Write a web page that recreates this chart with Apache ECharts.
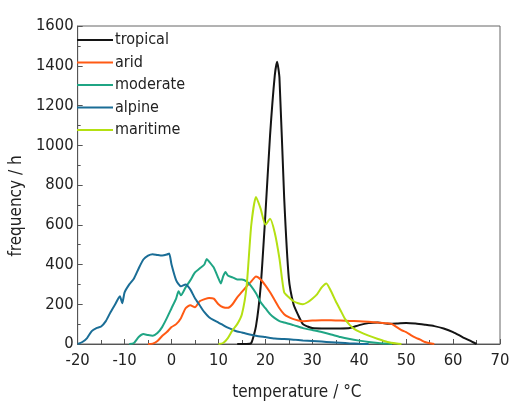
<!DOCTYPE html>
<html>
<head>
<meta charset="utf-8">
<script src="https://cdn.jsdelivr.net/npm/echarts@6/dist/echarts.min.js"></script>
<style>html,body{margin:0;padding:0;background:#fff;}#c{width:514px;height:406px;}</style>
</head>
<body>
<div id="c"></div>
<script>
// x ticks and y ticks
const xTicks = [-20, -10, 0, 10, 20, 30, 40, 50, 60, 70];
const yTicks = [0, 200, 400, 600, 800, 1000, 1200, 1400, 1600];
const seriesNames = ['tropical', 'arid', 'moderate', 'alpine', 'maritime'];

// [temperature °C, frequency h]
const tropical = [[14,0],[16,0],[17,5],[18,90],[19,290],[20,650],[21,1050],[22,1350],[22.5,1420],[23,1340],[24,740],[25,330],[26,200],[27,145],[28,100],[29,88],[30,80],[32,78],[34,78],[36,78],[38,80],[40,95],[42,105],[44,108],[46,102],[48,103],[50,106],[52,103],[54,97],[56,90],[58,78],[60,60],[62,35],[64,12],[65,0]];
const arid = [[-5,0],[-4,2],[-3,15],[-2,40],[-1,60],[0,85],[1,100],[2,130],[3,180],[4,195],[5,185],[6,215],[7,225],[8,232],[9,228],[10,200],[11,185],[12,182],[13,200],[14,235],[15,262],[16,290],[17,315],[18,340],[19,325],[20,295],[21,260],[22,220],[23,180],[24,150],[25,135],[26,125],[27,118],[28,115],[30,118],[32,120],[34,120],[36,118],[38,116],[40,115],[42,112],[44,108],[46,104],[47,100],[48,85],[49,70],[50,60],[51,45],[52,32],[53,22],[54,10],[55,4],[56,0]];
const moderate = [[-9,0],[-8,5],[-7,35],[-6,50],[-5,45],[-4,42],[-3,55],[-2,85],[-1,130],[0,180],[1,230],[1.5,265],[2,245],[3,285],[4,320],[5,360],[6,380],[7,400],[7.5,428],[8,415],[9,385],[10,330],[10.5,305],[11,340],[11.5,362],[12,345],[13,335],[14,325],[15,325],[16,315],[17,290],[18,255],[19,210],[20,180],[21,150],[22,130],[23,115],[24,108],[26,95],[28,80],[30,70],[32,60],[34,48],[36,35],[38,25],[40,17],[42,10],[44,5],[46,2],[47,0]];
const alpine = [[-20,0],[-19,10],[-18,30],[-17,65],[-16,80],[-15,88],[-14,115],[-13,160],[-12,200],[-11,240],[-10.5,205],[-10,260],[-9,300],[-8,330],[-7,380],[-6,425],[-5,445],[-4,452],[-3,448],[-2,445],[-1,450],[-0.5,455],[0,400],[1,320],[2,290],[3,300],[4,275],[5,230],[6,195],[7,160],[8,135],[9,120],[10,108],[11,95],[12,82],[13,72],[14,63],[15,58],[16,52],[18,42],[20,35],[22,28],[24,25],[26,22],[28,18],[30,15],[32,12],[34,9],[36,6],[38,3],[40,1],[42,0]];
const maritime = [[10,0],[11,5],[12,30],[13,70],[14,100],[15,150],[16,290],[17,600],[18,740],[19,680],[20,600],[21,630],[22,560],[23,430],[24,260],[25,235],[26,215],[27,205],[28,200],[29,210],[30,228],[31,250],[32,285],[33,305],[34,265],[35,215],[36,170],[37,125],[38,95],[39,75],[40,62],[42,42],[44,25],[46,10],[48,2],[49,0]];

const colors = ['#141414', '#ff5a14', '#1fa584', '#1a6d96', '#b4e012'];
const dataSets = [tropical, arid, moderate, alpine, maritime];
const FONT = "'Liberation Sans Narrow', 'DejaVu Sans Condensed', 'Roboto Condensed', sans-serif";

const chart = echarts.init(document.getElementById('c'), null, {renderer: 'canvas'});
chart.setOption({
  backgroundColor: '#fff',
  animation: false,
  color: colors,
  textStyle: {fontFamily: FONT},
  grid: {left: 77, right: 14, top: 26, bottom: 61, show: true, borderColor: '#666', borderWidth: 1, backgroundColor: 'transparent'},
  legend: {
    orient: 'vertical', left: 77, top: 32, padding: 0,
    itemWidth: 36, itemHeight: 16, itemGap: 6.5,
    icon: 'path://M0,7 L36,7 L36,9 L0,9 Z',
    data: seriesNames,
    textStyle: {fontSize: 16, color: '#222', fontFamily: FONT, padding: [0,0,0,-3]}
  },
  xAxis: {
    type: 'value', min: xTicks[0], max: xTicks[xTicks.length - 1], interval: 10,
    name: 'temperature / °C', nameLocation: 'middle', nameGap: 40,
    nameTextStyle: {fontSize: 17, color: '#222', fontFamily: FONT, padding: [0, 0, 0, 16]},
    axisLine: {onZero: false, lineStyle: {color: '#555'}},
    axisTick: {inside: true, length: 5, lineStyle: {color: '#555'}},
    minorTick: {show: true, splitNumber: 2, length: 4, lineStyle: {color: '#555'}},
    axisLabel: {fontSize: 16.5, color: '#222', margin: 8, fontFamily: FONT, formatter: v => String(v)},
    splitLine: {show: false}
  },
  yAxis: {
    type: 'value', min: yTicks[0], max: yTicks[yTicks.length - 1], interval: 200,
    name: 'frequency / h', nameLocation: 'middle', nameGap: 46,
    nameTextStyle: {fontSize: 17, color: '#222', fontFamily: FONT, padding: [0, 42, 0, 0]},
    axisLine: {show: true, onZero: false, lineStyle: {color: '#555'}},
    axisTick: {show: true, inside: true, length: 5, lineStyle: {color: '#555'}},
    minorTick: {show: true, splitNumber: 2, length: 3, lineStyle: {color: '#555'}},
    axisLabel: {fontSize: 16.5, color: '#222', margin: 4, fontFamily: FONT, formatter: v => String(v)},
    splitLine: {show: false}
  },
  series: seriesNames.map((n, i) => ({
    name: n, type: 'line', data: dataSets[i], showSymbol: false, symbol: 'none',
    lineStyle: {width: 2, color: colors[i]}, itemStyle: {color: colors[i]},
    smooth: 0.2
  }))
});
</script>
</body>
</html>
